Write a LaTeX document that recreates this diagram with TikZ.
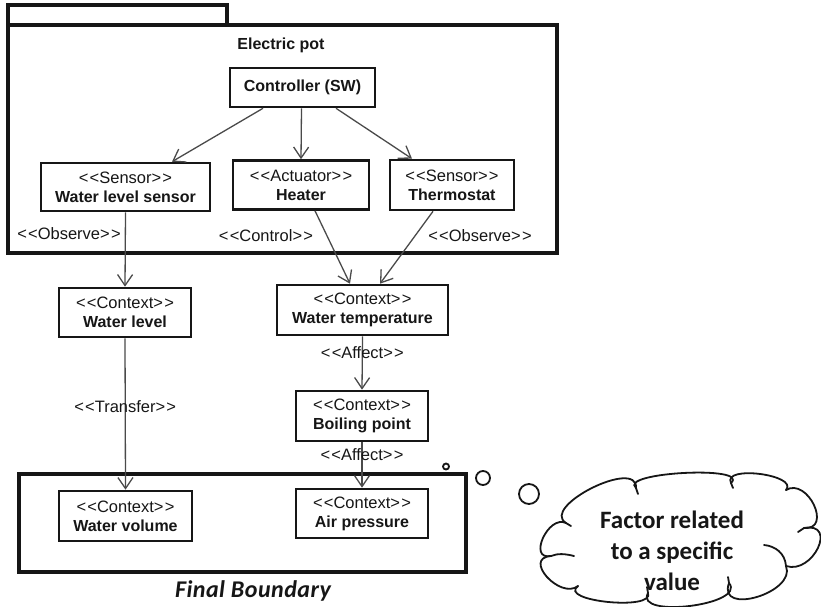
\documentclass[tikz,border=0pt]{standalone}
\usepackage{fontspec}
\setmainfont{Liberation Sans}
\newfontfamily\calib{Carlito}
\usetikzlibrary{arrows.meta,calc}

% stereotype brackets kept apart so they never turn into guillemets
\newcommand\stl{<\kern1.2pt<}
\newcommand\str{>\kern1.2pt>}
\newcommand\stereo[1]{{\mdseries\fontsize{16.5}{19}\selectfont\stl#1\str}}

\definecolor{ink}{HTML}{161616}
\definecolor{wire}{HTML}{4A4A4A}

\tikzset{
  x=1pt, y=-1pt,
  elem/.style={draw=ink, line width=2.6pt, fill=white, align=center,
    inner sep=0pt, text=ink,
    font=\fontsize{16}{19}\selectfont\bfseries},
  frame/.style={draw=ink, line width=3.4pt},
  dep/.style={draw=wire, line width=1.3pt,
    -{Straight Barb[length=11pt,width=15pt,line width=1.3pt]}},
  deplabel/.style={text=ink, inner sep=0pt, font=\fontsize{16.5}{19}\selectfont},
  bubble/.style={draw=ink, line width=1.8pt, line cap=round},
}

\begin{document}
\begin{tikzpicture}
\useasboundingbox (0,0) rectangle (821,607);

% ---- package "Electric pot"
\draw[frame] (8,5) rectangle (227,25);
\draw[frame] (8,25) rectangle (557,253);
\node[text=ink, font=\fontsize{16}{19}\selectfont\bfseries] (pkgname) at (281,45) {Electric pot};

% ---- elements inside the package
\node[elem, minimum width=145pt, minimum height=39pt] (ctrl) at (302.5,87.5) {Controller (SW)};
\node[elem, minimum width=169pt, minimum height=48pt] (wls) at (125.5,187) {\stereo{Sensor}\\Water level sensor};
\node[elem, minimum width=136pt, minimum height=49pt] (heater) at (301,185) {\stereo{Actuator}\\Heater};
\node[elem, minimum width=124pt, minimum height=50pt] (thermo) at (452,185) {\stereo{Sensor}\\Thermostat};

% ---- context elements
\node[elem, minimum width=132pt, minimum height=49pt] (wlevel) at (125,312.5) {\stereo{Context}\\Water level};
\node[elem, minimum width=171pt, minimum height=50pt] (wtemp) at (362.5,310) {\stereo{Context}\\Water temperature};
\node[elem, minimum width=132pt, minimum height=50pt] (boil) at (362,416) {\stereo{Context}\\Boiling point};

% ---- final boundary
\draw[frame] (19,474) rectangle (466,572);
\node[text=ink, font=\calib\fontsize{24}{28}\selectfont\bfseries\itshape\addfontfeature{LetterSpace=2}] (fbname) at (253,591) {Final Boundary};
\node[elem, minimum width=133pt, minimum height=50pt] (wvol) at (125.5,516) {\stereo{Context}\\Water volume};
\node[elem, minimum width=132pt, minimum height=49pt] (air) at (362,513.5) {\stereo{Context}\\Air pressure};

% ---- dependencies
\draw[dep] ([xshift=-39.5pt]ctrl.south) -- ([xshift=46.5pt]wls.north);
\draw[dep] ([xshift=-1pt]ctrl.south) -- (heater.north);
\draw[dep] ([xshift=33.5pt]ctrl.south) -- ([xshift=-40pt]thermo.north);
\draw[dep] (wls.south) -- (wlevel.north);
\draw[dep] ([xshift=14pt]heater.south) -- ([xshift=-12.5pt]wtemp.north);
\draw[dep] ([xshift=-19pt]thermo.south) -- ([xshift=17.5pt]wtemp.north);
\draw[dep] (wtemp.south) -- node[deplabel, pos=0.31] (laff1) {\stl Affect\str} (boil.north);
\draw[dep] (boil.south) -- node[deplabel, pos=0.28] (laff2) {\stl Affect\str} (air.north);
\draw[dep] (wlevel.south) -- node[deplabel, pos=0.45] (ltrans) {\stl Transfer\str} (wvol.north);

\node[deplabel] (lobs1) at (69,234) {\stl Observe\str};
\node[deplabel] (lctrl) at (266,236) {\stl Control\str};
\node[deplabel] (lobs2) at (480,236) {\stl Observe\str};

% ---- thought bubble: trailing circles
\draw[bubble] (446,466.5) circle (3pt);
\draw[bubble] (483,478) circle (7pt);
\draw[bubble] (529,494) circle (10pt);

% cloud outline: cusps c0..c9 and the crest of each puff between them
\coordinate (c0) at (551,556);  \coordinate (p0) at (543,538);
\coordinate (c1) at (566,523);  \coordinate (p1) at (592,488);
\coordinate (c2) at (636,488);  \coordinate (p2) at (684,473);
\coordinate (c3) at (731,483);  \coordinate (p3) at (760,474);
\coordinate (c4) at (786,490);  \coordinate (p4) at (814,505);
\coordinate (c5) at (804,528);  \coordinate (p5) at (818,548);
\coordinate (c6) at (786,566);  \coordinate (p6) at (757,597);
\coordinate (c7) at (729,583);  \coordinate (p7) at (690,606);
\coordinate (c8) at (648,593);  \coordinate (p8) at (608,602);
\coordinate (c9) at (578,586);  \coordinate (p9) at (547,577);
\foreach \a/\m/\b in {c0/p0/c1, c1/p1/c2, c2/p2/c3, c3/p3/c4, c4/p4/c5,
                      c5/p5/c6, c6/p6/c7, c7/p7/c8, c8/p8/c9, c9/p9/c0}
  \draw[bubble] (\a) .. controls ($0.5333*(\a)+1.3333*(\m)-0.8667*(\b)$)
                      and ($0.5333*(\b)+1.3333*(\m)-0.8667*(\a)$) .. (\b);
% inner curls where the puffs meet
\draw[bubble] (c0) .. controls (558,553) and (566,554) .. (574,556);
\draw[bubble] (c1) -- (571,526);
\draw[bubble] (c2) -- (638,494);
\draw[bubble] (c3) -- (733,488);
\draw[bubble] (c5) -- (798,532);
\draw[bubble] (c6) .. controls (785,553) and (775,546) .. (764,545);
\draw[bubble] (c7) -- (728,577);
\draw[bubble] (c8) -- (647,587);

\node[text=ink, align=center, font=\calib\fontsize{25}{31}\selectfont\bfseries] (note) at (672,551)
  {Factor related\\to a specific\\value};
\end{tikzpicture}
\end{document}
